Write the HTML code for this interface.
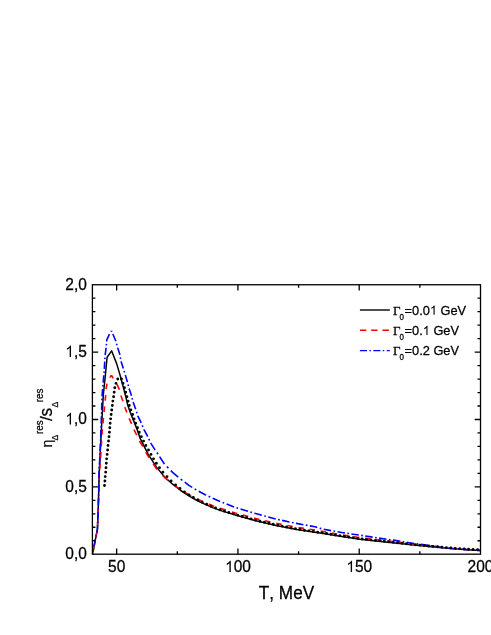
<!DOCTYPE html>
<html><head><meta charset="utf-8"><title>chart</title>
<style>
html,body{margin:0;padding:0;background:#fff;}
body{width:491px;height:635px;overflow:hidden;}
svg{display:block;will-change:transform;}
text{font-family:"Liberation Sans",sans-serif;fill:#000;stroke:#000;stroke-width:0.25px;font-kerning:none;white-space:pre;}
.ser{font-family:"Liberation Serif",serif;}
</style></head><body>
<svg width="491" height="635" viewBox="0 0 491 635">
<rect width="491" height="635" fill="#fff"/>
<g fill="none" stroke-linejoin="round">
<polyline points="92.6,553.6 97.4,529.3 98.1,513.7 98.9,485.0 99.2,473.0 101.1,435.0 103.3,395.0 105.4,375.0 107.1,357.2 111.7,350.9 116.4,362.9 119.7,373.9 122.4,383.7 126.0,397.6 127.7,405.0 130.2,412.3 137.1,429.4 140.0,438.1 148.1,454.2 156.3,466.9 164.4,476.8 172.6,484.2 180.7,490.5 188.9,495.9 197.0,500.5 205.2,504.4 213.3,507.9 220.0,510.4 235.4,515.0 255.7,520.7 276.1,525.4 296.5,529.5 315.0,532.3 323.3,533.5 341.7,536.5 360.0,539.2 378.3,541.2 395.0,542.9 409.3,544.6 428.7,546.5 448.0,548.3 467.4,549.7 480.5,550.4" stroke="#000" stroke-width="1.5"/>
<path d="M111.40 375.20L109.98 377.68M107.02 383.59L106.10 389.00L106.09 389.15M105.70 395.05L105.16 400.58M104.59 406.45L104.06 412.03M103.51 417.85L103.50 418.00L102.97 423.43M102.40 429.30L101.97 434.80M101.62 440.70L101.29 446.20M100.95 452.05L100.62 457.60M100.16 463.50L99.72 469.00M99.32 474.90L99.09 480.40M98.87 486.25L98.71 491.80M98.55 497.65L98.39 503.20M98.23 509.05L98.10 513.70L98.06 514.60M97.79 520.50L97.55 526.00M96.90 531.85L95.80 537.40M94.64 543.29L93.54 548.84M111.40 375.20L113.27 378.29M116.84 384.17L117.10 384.60L119.30 389.40L119.38 389.74M120.84 395.59L122.80 400.80L122.91 401.13M124.86 406.97L125.00 407.40L126.60 411.90L126.83 412.51M129.08 418.35L129.10 418.40L131.40 423.30L131.62 423.86M133.94 429.67L136.40 434.50L136.72 435.18M139.41 440.97L142.30 445.70L142.72 446.50M145.78 452.26L145.80 452.30L148.10 456.00L149.33 457.89M153.18 463.81L156.30 468.60L157.09 469.44M162.62 475.39L164.40 477.30L168.09 480.32M174.02 485.02L179.64 489.04M185.58 492.65L188.90 494.60L191.19 495.84M197.14 499.06L202.77 501.60M208.69 504.08L213.30 505.90L214.29 506.25M220.24 508.37L225.88 510.10M231.81 511.91L235.40 513.00L237.18 513.49M242.92 515.08L248.32 516.56M254.01 518.13L255.70 518.60L259.46 519.47M265.17 520.78L270.54 522.02M276.25 523.33L281.65 524.39M287.41 525.52L292.76 526.57M298.48 527.59L303.89 528.38M309.59 529.21L315.00 530.00M320.67 531.04L326.08 532.03M331.80 533.08L337.17 534.07M342.89 535.08L348.30 535.87M354.00 536.71L359.40 537.51M365.07 538.21L370.49 538.86M376.16 539.54L378.30 539.80L381.58 540.17M387.30 540.82L392.66 541.43M398.36 542.19L403.81 542.99M409.50 543.82L414.87 544.49M420.59 545.20L425.96 545.86M431.68 546.52L437.11 547.11M442.78 547.73L448.00 548.30L448.20 548.31M453.88 548.72L459.27 549.11M464.96 549.52L467.40 549.70L470.40 549.86M476.10 550.16L480.50 550.40" stroke="#f00" stroke-width="1.6"/>
<path d="M111.55 330.90L111.05 331.65M109.46 334.09L106.80 339.80L106.65 341.45M106.43 343.85L106.29 345.40M106.07 347.80L106.00 348.60L105.16 355.16M104.93 357.60L104.85 359.15M104.72 361.55L104.32 368.90M104.17 371.35L104.03 372.90M103.82 375.29L103.19 382.58M102.97 385.02L102.84 386.57M102.63 388.96L102.10 395.00L102.06 396.25M101.98 398.65L101.93 400.20M101.85 402.60L101.62 409.90M101.54 412.30L101.49 413.85M101.41 416.25L101.17 423.55M101.09 425.95L101.04 427.50M100.97 429.90L100.80 435.00L100.70 437.20M100.59 439.60L100.52 441.15M100.42 443.55L100.09 450.85M99.98 453.25L99.91 454.80M99.81 457.20L99.48 464.50M99.37 466.90L99.30 468.45M99.20 470.85L99.10 473.00L99.01 478.15M98.97 480.55L98.95 482.10M98.91 484.50L98.90 485.00L98.71 491.80M98.64 494.20L98.60 495.75M98.53 498.15L98.33 505.45M98.26 507.85L98.22 509.40M98.15 511.80L98.10 513.70L97.86 519.10M97.75 521.50L97.68 523.05M97.57 525.45L97.40 529.30L96.72 532.74M96.25 535.14L95.94 536.71M95.46 539.12L94.03 546.38M93.55 548.79L93.24 550.36M92.76 552.77L92.60 553.60M111.55 330.90L111.85 331.65M112.82 334.05L115.60 340.50L115.84 341.32M116.52 343.69L116.96 345.24M117.66 347.65L117.70 347.80L119.70 353.90L119.90 354.94M120.36 357.31L120.65 358.84M121.11 361.26L121.20 361.70L123.00 367.40L123.34 368.51M124.09 370.91L124.57 372.45M125.31 374.85L127.30 381.70L127.41 382.14M128.04 384.51L128.44 386.07M129.08 388.44L131.40 395.50L131.46 395.74M132.08 398.12L132.47 399.67M133.12 402.03L135.60 409.00L135.71 409.33M136.48 411.72L136.98 413.25M137.75 415.64L138.00 416.40L140.90 422.10L141.25 422.93M142.25 425.35L142.89 426.88M143.87 429.24L144.10 429.80L147.20 435.50L147.69 436.54M148.83 438.95L149.57 440.49M150.68 442.85L150.90 443.30L154.70 449.40L155.22 450.14M156.94 452.55L157.40 453.20L157.97 454.08M159.58 456.56L164.40 464.00L164.44 464.04M166.85 466.51L168.39 468.09M170.81 470.57L172.60 472.40L178.23 477.06M180.70 479.10L182.29 480.32M184.76 482.22L188.90 485.40L192.24 487.42M194.69 488.90L196.27 489.86M198.72 491.22L205.20 494.70L206.16 495.14M208.61 496.26L210.21 496.99M212.66 498.11L213.30 498.40L220.00 501.40L220.09 501.44M222.56 502.41L224.14 503.04M226.61 504.02L234.05 506.97M236.50 507.83L238.09 508.31M240.53 509.04L247.93 511.26M250.37 512.00L251.96 512.48M254.40 513.21L255.70 513.60L261.84 515.26M264.26 515.91L265.85 516.34M268.27 516.99L275.71 519.00M278.11 519.52L279.73 519.86M282.13 520.37L289.54 521.93M291.99 522.45L293.56 522.78M296.01 523.30L296.50 523.40L303.39 524.67M305.85 525.12L307.42 525.41M309.83 525.85L315.00 526.80L317.27 527.46M319.68 528.15L321.27 528.61M323.69 529.27L331.09 530.60M333.51 531.03L335.09 531.31M337.56 531.76L341.70 532.50L344.92 532.98M347.40 533.34L348.94 533.57M351.37 533.93L358.81 535.02M361.24 535.39L362.82 535.63M365.24 536.00L372.66 537.14M375.09 537.51L376.67 537.75M379.09 538.11L386.48 539.18M388.95 539.53L390.49 539.75M392.92 540.10L395.00 540.40L400.33 541.29M402.79 541.71L404.37 541.97M406.79 542.38L409.30 542.80L414.21 543.48M416.64 543.82L418.18 544.04M420.66 544.38L428.05 545.41M430.49 545.75L432.07 545.97M434.50 546.31L441.90 547.35M444.33 547.69L445.92 547.91M448.35 548.23L455.73 548.76M458.17 548.93L459.77 549.05M462.21 549.23L467.40 549.60L469.60 549.73M472.05 549.88L473.60 549.98M476.05 550.13L480.50 550.40" stroke="#00f" stroke-width="1.6"/>
<path d="M104.50 485.50h0M104.90 481.05h0M105.19 476.60h0M105.70 472.15h0M106.00 467.70h0M106.30 463.25h0M106.62 458.85h0M107.11 454.40h0M107.61 449.95h0M108.03 445.50h0M108.53 441.05h0M109.02 436.65h0M109.47 432.20h0M109.82 427.75h0M110.12 423.30h0M110.63 418.85h0M111.13 414.45h0M111.74 410.00h0M112.34 405.55h0M112.87 401.10h0M113.59 396.70h0M114.16 392.25h0M114.80 387.81h0M115.98 383.36h0M117.74 378.93h0M121.45 378.94h0M123.07 383.36h0M124.44 387.82h0M125.70 392.22h0M126.93 396.67h0M128.10 401.13h0M129.32 405.55h0M130.86 410.00h0M132.62 414.44h0M134.04 418.88h0M135.63 423.32h0M137.48 427.78h0M139.26 432.20h0M141.33 436.65h0M143.55 441.10h0M145.84 445.53h0M148.48 449.98h0M150.99 454.39h0M153.51 458.86h0M156.42 463.30h0M159.49 467.70h0M162.89 472.16h0M167.02 476.62h0M171.13 480.96h0M175.58 484.95h0M180.00 488.54h0M184.45 491.91h0M188.92 494.86h0M193.33 497.45h0M197.77 499.97h0M202.23 502.15h0M206.66 504.25h0M211.10 506.22h0M215.55 508.07h0M220.00 509.80h0M224.40 511.14h0M228.85 512.50h0M233.30 513.86h0M237.76 515.16h0M242.20 516.41h0M246.63 517.65h0M251.07 518.90h0M255.51 520.15h0M259.95 521.18h0M264.39 522.20h0M268.83 523.22h0M273.27 524.25h0M277.72 525.23h0M282.13 526.11h0M286.59 527.01h0M291.01 527.90h0M295.47 528.79h0M299.91 529.52h0M304.36 530.19h0M308.77 530.86h0M313.22 531.53h0M317.68 532.19h0M322.11 532.83h0M326.56 533.53h0M330.97 534.25h0M335.42 534.98h0M339.87 535.70h0M344.33 536.39h0M348.74 537.04h0M353.21 537.70h0M357.62 538.35h0M362.09 538.93h0M366.51 539.41h0M370.94 539.90h0M375.37 540.38h0M379.85 540.86h0M384.28 541.31h0M388.72 541.76h0M393.16 542.21h0M397.58 542.71h0M402.00 543.23h0M406.47 543.76h0M410.90 544.26h0M415.33 544.69h0M419.77 545.13h0M424.21 545.56h0M428.65 546.00h0M433.09 546.41h0M437.53 546.82h0M441.97 547.24h0M446.40 547.65h0M450.84 548.01h0M455.28 548.33h0M459.77 548.65h0M464.21 548.97h0M468.60 549.26h0M473.05 549.50h0M477.50 549.74h0" stroke="#000" stroke-width="2.9" stroke-linecap="round"/>
</g>
<g fill="none" stroke-width="1.4">
<path d="M359.9 310H389.8" stroke="#000"/>
<path d="M359.9 330.3H389.8" stroke="#f00" stroke-dasharray="6.4 4.9"/>
<path d="M359.9 350.6H389.8" stroke="#00f" stroke-dasharray="7.1 2.4 1.5 2.4"/>
</g>
<g stroke="#000" stroke-width="1.3" fill="none">
<rect x="92.40" y="284.75" width="388.10" height="269.45"/>
<path d="M116.66 554.20v-5.8M116.66 284.75v5.8M237.94 554.20v-5.8M237.94 284.75v5.8M359.22 554.20v-5.8M359.22 284.75v5.8M177.30 554.20v-3.0M177.30 284.75v3.0M298.58 554.20v-3.0M298.58 284.75v3.0M419.86 554.20v-3.0M419.86 284.75v3.0M92.40 540.73h3.0M480.50 540.73h-3.0M92.40 527.25h3.0M480.50 527.25h-3.0M92.40 513.78h3.0M480.50 513.78h-3.0M92.40 500.31h3.0M480.50 500.31h-3.0M92.40 486.84h5.8M480.50 486.84h-5.8M92.40 473.37h3.0M480.50 473.37h-3.0M92.40 459.89h3.0M480.50 459.89h-3.0M92.40 446.42h3.0M480.50 446.42h-3.0M92.40 432.95h3.0M480.50 432.95h-3.0M92.40 419.48h5.8M480.50 419.48h-5.8M92.40 406.00h3.0M480.50 406.00h-3.0M92.40 392.53h3.0M480.50 392.53h-3.0M92.40 379.06h3.0M480.50 379.06h-3.0M92.40 365.59h3.0M480.50 365.59h-3.0M92.40 352.11h5.8M480.50 352.11h-5.8M92.40 338.64h3.0M480.50 338.64h-3.0M92.40 325.17h3.0M480.50 325.17h-3.0M92.40 311.69h3.0M480.50 311.69h-3.0M92.40 298.22h3.0M480.50 298.22h-3.0"/>
</g>
<text transform="translate(86.80 559.20) scale(1 1.100)" font-size="15.5" text-anchor="end">0,0</text>
<text transform="translate(86.80 491.84) scale(1 1.100)" font-size="15.5" text-anchor="end">0,5</text>
<g transform="translate(86.80 424.48) scale(1 1.100)" font-size="15.5"><path transform="translate(-21.55 0) scale(0.00757 -0.00724)" d="M763 0H583V1147Q518 1085 412.5 1023T223 930V1104Q374 1175 487 1276T647 1472H763Z"/><text x="-12.93">,0</text></g>
<g transform="translate(86.80 357.11) scale(1 1.100)" font-size="15.5"><path transform="translate(-21.55 0) scale(0.00757 -0.00724)" d="M763 0H583V1147Q518 1085 412.5 1023T223 930V1104Q374 1175 487 1276T647 1472H763Z"/><text x="-12.93">,5</text></g>
<text transform="translate(86.80 289.75) scale(1 1.100)" font-size="15.5" text-anchor="end">2,0</text>
<text transform="translate(116.66 572.00) scale(1 1.050)" font-size="15.5" text-anchor="middle">50</text>
<g transform="translate(237.94 572.00) scale(1 1.050)" font-size="15.5"><path transform="translate(-12.93 0) scale(0.00757 -0.00724)" d="M763 0H583V1147Q518 1085 412.5 1023T223 930V1104Q374 1175 487 1276T647 1472H763Z"/><text x="-4.31">00</text></g>
<g transform="translate(359.22 572.00) scale(1 1.050)" font-size="15.5"><path transform="translate(-12.93 0) scale(0.00757 -0.00724)" d="M763 0H583V1147Q518 1085 412.5 1023T223 930V1104Q374 1175 487 1276T647 1472H763Z"/><text x="-4.31">50</text></g>
<text transform="translate(480.50 572.00) scale(1 1.050)" font-size="15.5" text-anchor="middle">200</text>
<text transform="translate(286.50 598.60) scale(1 1.050)" font-size="17.2" text-anchor="middle">T, MeV</text>
<text transform="translate(392.90 314.70) scale(1 1.030)" font-size="13.0" text-anchor="start" class="ser">&#915;</text>
<text transform="translate(399.40 319.60) scale(1 1.180)" font-size="8.0" text-anchor="start">0</text>
<g transform="translate(404.60 314.70) scale(1 1.050)" font-size="12.8"><text x="0.00">=0.0</text><path transform="translate(25.27 0) scale(0.00625 -0.00598)" d="M763 0H583V1147Q518 1085 412.5 1023T223 930V1104Q374 1175 487 1276T647 1472H763Z"/><text x="32.39">&#160;GeV</text></g>
<text transform="translate(392.90 335.05) scale(1 1.030)" font-size="13.0" text-anchor="start" class="ser">&#915;</text>
<text transform="translate(399.40 339.95) scale(1 1.180)" font-size="8.0" text-anchor="start">0</text>
<g transform="translate(404.60 335.05) scale(1 1.050)" font-size="12.8"><text x="0.00">=0.</text><path transform="translate(18.15 0) scale(0.00625 -0.00598)" d="M763 0H583V1147Q518 1085 412.5 1023T223 930V1104Q374 1175 487 1276T647 1472H763Z"/><text x="25.27">&#160;GeV</text></g>
<text transform="translate(392.90 355.40) scale(1 1.030)" font-size="13.0" text-anchor="start" class="ser">&#915;</text>
<text transform="translate(399.40 360.30) scale(1 1.180)" font-size="8.0" text-anchor="start">0</text>
<text transform="translate(404.60 355.40) scale(1 1.050)" font-size="12.8" text-anchor="start">=0.2 GeV</text>
<g transform="translate(51.7 419.3) rotate(-90)">
<text transform="translate(-28.10 0.00) scale(1 1.000)" font-size="14.0" text-anchor="start">&#951;</text>
<text transform="translate(-21.30 6.10) scale(1 1.000)" font-size="8.6" text-anchor="start">&#916;</text>
<text transform="translate(-14.60 -8.80) scale(1 1.120)" font-size="9.8" text-anchor="start">res</text>
<text transform="translate(-1.70 0.00) scale(1 1.000)" font-size="17" text-anchor="start">/</text>
<text transform="translate(2.90 0.00) scale(1 1.030)" font-size="17.2" text-anchor="start">s</text>
<text transform="translate(11.80 6.10) scale(1 1.000)" font-size="8.6" text-anchor="start">&#916;</text>
<text transform="translate(17.00 -8.80) scale(1 1.120)" font-size="9.8" text-anchor="start">res</text>
</g>
</svg>
</body></html>
